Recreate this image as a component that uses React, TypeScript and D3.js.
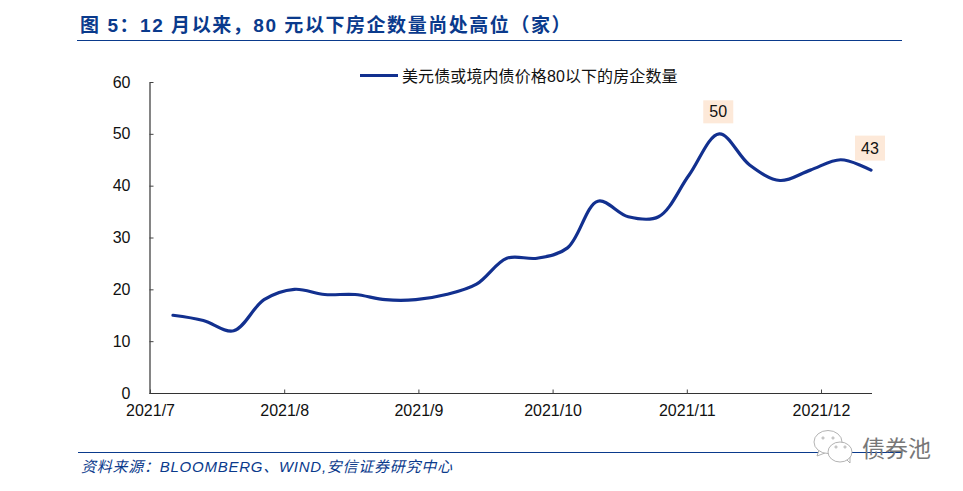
import { useEffect, useRef } from "react";
import * as d3 from "d3";

const W = 963;
const H = 491;

const weeks = [
  "07-06", "07-13", "07-20", "07-27", "08-03", "08-10", "08-17", "08-24",
  "08-31", "09-07", "09-14", "09-21", "09-28", "10-05", "10-12", "10-19",
  "10-26", "11-02", "11-09", "11-16", "11-23", "11-30", "12-07", "12-14",
];
const counts = [15, 14, 12, 18, 20, 19, 19, 18, 18, 19, 21, 26, 26, 28, 37, 34, 34, 42, 50, 44, 41, 43, 45, 43];
const months = ["2021/7", "2021/8", "2021/9", "2021/10", "2021/11", "2021/12"];
const yTicks = [0, 10, 20, 30, 40, 50, 60];
const callouts = [
  { week: "11-09", value: 50, text: "50", dy: -22, h: 23 },
  { week: "12-14", value: 43, text: "43", dy: -22, h: 25 },
];

const TITLE = "图 5：12 月以来，80 元以下房企数量尚处高位（家）";
const LEGEND = "美元债或境内债价格80以下的房企数量";
const SOURCE = "资料来源：BLOOMBERG、WIND,安信证券研究中心";
const MARK = "债券池";

const BLUE = "#0a3a8c";
const LINE = "#12308f";
const FONT = '"Liberation Sans", "Noto Sans CJK SC", sans-serif';

const App = () => {
  const svgRef = useRef<SVGSVGElement>(null);

  useEffect(() => {
    const svg = d3.select(svgRef.current);
    svg.selectAll("*").remove();

    const xScale = d3.scalePoint().domain(weeks).range([173, 871]);
    const monthScale = d3.scalePoint().domain(months).range([150, 821]);
    const yScale = d3.scaleLinear().domain([0, 60]).range([393, 82]);

    // header and footer
    svg
      .append("text")
      .attr("x", 80)
      .attr("y", 32)
      .attr("fill", BLUE)
      .attr("font-size", 19)
      .attr("font-weight", "bold")
      .attr("letter-spacing", 1.55)
      .text(TITLE);
    svg.append("line").attr("x1", 77).attr("x2", 902).attr("y1", 40.5).attr("y2", 40.5).attr("stroke", BLUE).attr("stroke-width", 1.2);
    svg.append("line").attr("x1", 78).attr("x2", 902).attr("y1", 452.5).attr("y2", 452.5).attr("stroke", BLUE).attr("stroke-width", 1.2);
    svg
      .append("text")
      .attr("x", 81)
      .attr("y", 472)
      .attr("fill", BLUE)
      .attr("font-size", 15)
      .attr("font-style", "italic")
      .attr("letter-spacing", 0.75)
      .text(SOURCE);

    // axes
    const yAxis = d3.axisLeft(yScale).tickValues(yTicks).tickSize(-4).tickPadding(19).tickSizeOuter(0);
    const yG = svg.append("g").attr("transform", "translate(149.5,0)").call(yAxis as any);
    const xAxis = d3.axisBottom(monthScale).tickSize(-4).tickPadding(11).tickSizeOuter(0);
    const xG = svg.append("g").attr("transform", "translate(0,393.5)").call(xAxis as any);
    xG.select(".domain").attr("d", "M149.5,0H872");
    [yG, xG].forEach((g) => {
      g.attr("font-family", FONT).attr("font-size", 16);
      g.selectAll("text").attr("fill", "#111");
      g.selectAll("line").attr("stroke", "#444");
      g.select(".domain").attr("stroke", "#333").attr("stroke-width", 1.2);
    });

    // series
    const line = d3
      .line<number>()
      .x((_, i) => xScale(weeks[i]) as number)
      .y((d) => yScale(d))
      .curve(d3.curveCatmullRom.alpha(0.5));
    svg
      .append("path")
      .attr("d", line(counts))
      .attr("fill", "none")
      .attr("stroke", LINE)
      .attr("stroke-width", 3.2)
      .attr("stroke-linecap", "round");

    // legend
    svg.append("line").attr("x1", 360).attr("x2", 398).attr("y1", 75.5).attr("y2", 75.5).attr("stroke", LINE).attr("stroke-width", 3.2);
    svg.append("text").attr("x", 402).attr("y", 82).attr("font-size", 16).attr("letter-spacing", 0.1).attr("fill", "#111").text(LEGEND);

    // value labels
    callouts.forEach((c) => {
      const cx = (xScale(c.week) as number) - 1;
      const cy = yScale(c.value) + c.dy;
      const g = svg.append("g");
      g.append("rect").attr("x", cx - 15).attr("y", cy - c.h / 2).attr("width", 30).attr("height", c.h).attr("fill", "#fde9d9");
      g.append("text").attr("x", cx).attr("y", cy + 5.5).attr("text-anchor", "middle").attr("font-size", 16).attr("fill", "#111").text(c.text);
    });

    // watermark: two chat bubbles, then the account name
    const mark = svg.append("g").attr("fill", "#fff").attr("stroke", "#a0a0a0").attr("stroke-width", 0.8);
    mark.append("path").attr("d", "M819,450L817,456L825,453Z");
    mark.append("ellipse").attr("cx", 828).attr("cy", 442).attr("rx", 14).attr("ry", 11.5);
    mark.append("path").attr("d", "M846,459L850,463L850,457Z");
    mark.append("ellipse").attr("cx", 840).attr("cy", 452).attr("rx", 12).attr("ry", 10);
    const eyes = [[823, 438], [833, 438], [836, 447], [845, 447]];
    eyes.forEach(([cx, cy]) =>
      svg.append("circle").attr("cx", cx).attr("cy", cy).attr("r", 1.1).attr("fill", "none").attr("stroke", "#888").attr("stroke-width", 0.6)
    );
    svg
      .append("text")
      .attr("x", 862)
      .attr("y", 457)
      .attr("font-size", 23)
      .attr("fill", "#777")
      .text(MARK);
  }, []);

  return (
    <svg
      ref={svgRef}
      width={W}
      height={H}
      viewBox={`0 0 ${W} ${H}`}
      fontFamily={FONT}
      style={{ position: "absolute", left: 0, top: 0, background: "#fff" }}
    />
  );
};

export default App;
